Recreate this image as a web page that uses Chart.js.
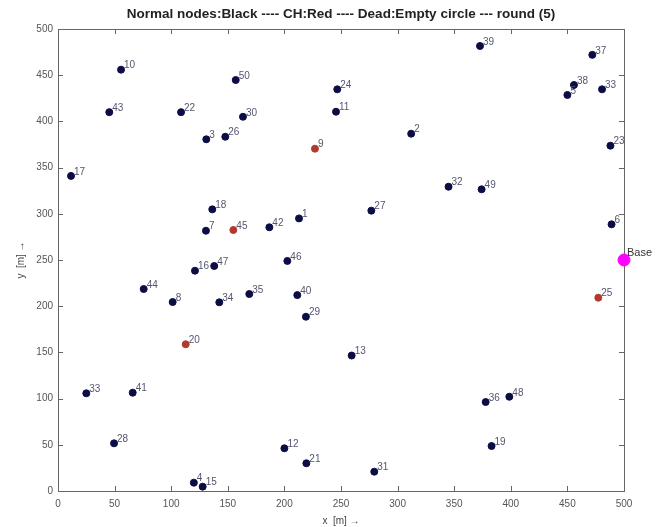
<!DOCTYPE html>
<html>
<head>
<meta charset="utf-8">
<script src="https://cdn.jsdelivr.net/npm/chart.js@4"></script>
<style>
  body { margin: 0; background: #fff; }
  canvas { display: block; }
</style>
</head>
<body>
<canvas id="chart-1" width="657" height="527"></canvas>
<script>
// node data
const normalIds = ['10','43','22','3','17','50','30','26','24','11','2','39','37','38','5','33','23','32','49',
  '18','7','16','44','8','42','1','27','47','46','34','35','40','29','13','6','33','41','28','4','15',
  '12','21','31','36','48','19'];
const normalX = [55.7, 45.3, 108.7, 131, 11.5, 157, 163.4, 147.8, 246.7, 245.6, 312, 372.8, 472, 455.8, 450, 480.6, 488, 345, 374.2,
  136.3, 130.7, 121, 75.7, 101.3, 186.7, 212.9, 276.8, 138, 202.6, 142.5, 169, 211.4, 219, 259.4, 489, 25, 66, 49.5, 120, 127.8,
  200, 219.4, 279.4, 377.8, 398.7, 383];
const normalY = [456, 410, 410, 380.6, 341, 444.8, 405, 383.4, 434.7, 410.5, 386.7, 481.6, 472, 439.4, 428.6, 434.7, 373.7, 329.3, 326.5,
  304.8, 281.7, 238.4, 218.6, 204.5, 285.4, 295, 303.4, 243.5, 249, 204.2, 213.2, 212, 188.6, 146.6, 288.6, 105.7, 106.4, 51.6, 9, 4.7,
  46.2, 30, 20.9, 96.3, 102, 48.7];

const chIds = ['9','45','20','25'];
const chX = [227, 154.9, 112.8, 477.3];
const chY = [370.5, 282.5, 158.8, 209.2];

const baseIds = ['Base'];
const baseX = [500];
const baseY = [250];

const tickValues = [0, 50, 100, 150, 200, 250, 300, 350, 400, 450, 500];

function toPoints(xs, ys){
  return xs.map((x, i) => ({x: x, y: ys[i]}));
}

// matlab style box with inward ticks
const boxPlugin = {
  id: 'box',
  beforeDatasetsDraw(chart){
    const c = chart.ctx, a = chart.chartArea;
    const sx = chart.scales.x, sy = chart.scales.y;
    c.save();
    c.strokeStyle = '#666';
    c.lineWidth = 1;
    c.strokeRect(a.left + 0.5, a.top + 0.5, a.right - a.left, a.bottom - a.top);
    c.beginPath();
    tickValues.forEach(v => {
      const px = Math.round(sx.getPixelForValue(v)) + 0.5;
      c.moveTo(px, a.bottom); c.lineTo(px, a.bottom - 5);
      c.moveTo(px, a.top); c.lineTo(px, a.top + 5);
      const py = Math.round(sy.getPixelForValue(v)) + 0.5;
      c.moveTo(a.left, py); c.lineTo(a.left + 5, py);
      c.moveTo(a.right, py); c.lineTo(a.right - 5, py);
    });
    c.stroke();
    c.restore();
  }
};

// node number next to every point
const labelPlugin = {
  id: 'nodeLabels',
  afterDatasetsDraw(chart){
    const c = chart.ctx;
    c.save();
    c.textBaseline = 'middle';
    chart.data.datasets.forEach((ds, i) => {
      const meta = chart.getDatasetMeta(i);
      c.font = i == 2 ? '11px "Liberation Sans", Arial, sans-serif' : '10px "Liberation Sans", Arial, sans-serif';
      c.fillStyle = i == 2 ? '#333' : '#555570';
      meta.data.forEach((el, j) => {
        c.fillText(ds.ids[j], el.x + 3, el.y - (i == 2 ? 7 : 4));
      });
    });
    c.restore();
  }
};

new Chart(document.getElementById('chart-1'), {
  type: 'scatter',
  data: {
    datasets: [
      {
        label: 'Normal',
        ids: normalIds,
        data: toPoints(normalX, normalY),
        backgroundColor: '#0d0d45',
        borderColor: '#0d0d45',
        pointRadius: 3.5,
        clip: false,
      },
      {
        label: 'CH',
        ids: chIds,
        data: toPoints(chX, chY),
        backgroundColor: '#b03a2e',
        borderColor: '#b03a2e',
        pointRadius: 3.5,
        clip: false,
      },
      {
        label: 'Base',
        ids: baseIds,
        data: toPoints(baseX, baseY),
        backgroundColor: '#ff00ff',
        borderColor: '#ff00ff',
        pointRadius: 6,
        clip: false,
      }
    ]
  },
  options: {
    responsive: false,
    animation: false,
    layout: { padding: { left: 15, right: 33, top: 0, bottom: 0 } },
    plugins: {
      legend: { display: false },
      tooltip: { enabled: false },
      title: {
        display: true,
        fullSize: false,
        text: 'Normal nodes:Black ---- CH:Red ---- Dead:Empty circle --- round (5)',
        color: '#222',
        font: { family: '"Liberation Sans", Arial, sans-serif', size: 13.5, weight: 'bold' },
        padding: { top: 6, bottom: 6.8 }
      }
    },
    scales: {
      x: {
        type: 'linear',
        min: 0,
        max: 500,
        afterFit: s => { s.height = 36 },
        afterBuildTicks: s => { s.ticks = tickValues.map(v => ({value: v})) },
        grid: { display: false, drawTicks: false },
        border: { display: false },
        ticks: { padding: 7, color: '#555', font: { family: '"Liberation Sans", Arial, sans-serif', size: 10 }, maxRotation: 0 },
        title: { display: true, text: 'x  [m] \u2192', color: '#444', padding: 0,
                 font: { family: '"Liberation Sans", Arial, sans-serif', size: 10 } }
      },
      y: {
        type: 'linear',
        min: 0,
        max: 500,
        afterFit: s => { s.width = 43 },
        afterBuildTicks: s => { s.ticks = tickValues.map(v => ({value: v})) },
        grid: { display: false, drawTicks: false },
        border: { display: false },
        ticks: { padding: 5, color: '#555', font: { family: '"Liberation Sans", Arial, sans-serif', size: 10 } },
        title: { display: true, text: 'y  [m] \u2192', color: '#444', padding: 0,
                 font: { family: '"Liberation Sans", Arial, sans-serif', size: 10 } }
      }
    }
  },
  plugins: [boxPlugin, labelPlugin]
});
</script>
</body>
</html>
